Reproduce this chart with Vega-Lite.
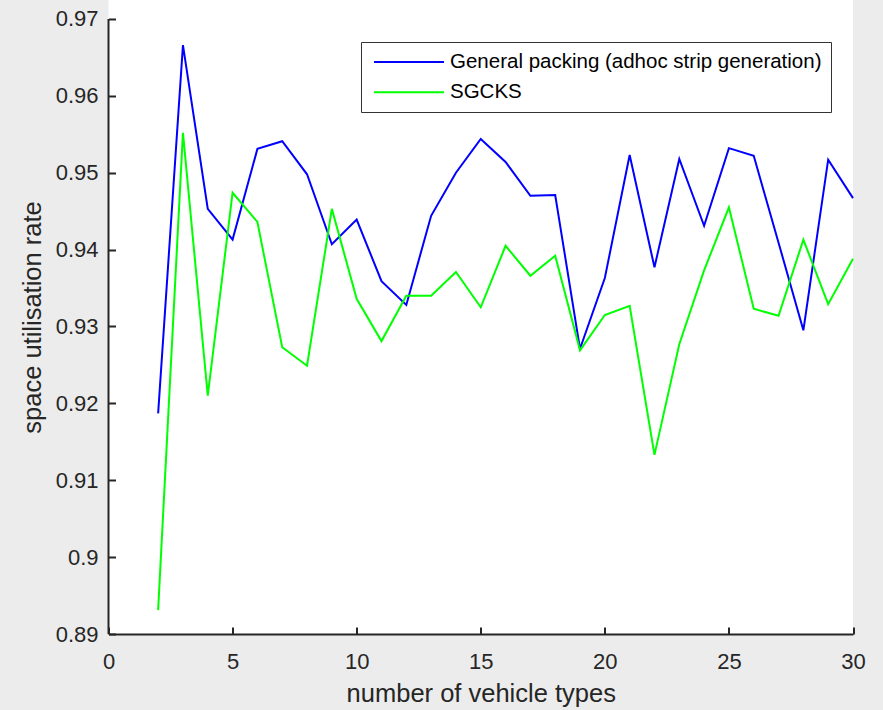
{
  "$schema": "https://vega.github.io/schema/vega-lite/v6.json",
  "width": 744.5,
  "height": 634,
  "autosize": "none",
  "padding": {"left": 108.5, "top": 0, "right": 30, "bottom": 76},
  "background": "#ececec",
  "config": {
    "view": {"stroke": null, "fill": "white"},
    "font": "Liberation Sans",
    "axis": {
      "labelFont": "Liberation Sans",
      "titleFont": "Liberation Sans",
      "labelColor": "#262626",
      "titleColor": "#262626",
      "domainColor": "#262626",
      "tickColor": "#262626",
      "domainWidth": 2,
      "tickWidth": 2,
      "tickSize": -7,
      "grid": false,
      "labelFlush": false,
      "labelOverlap": false,
      "labelFontSize": 22,
      "titleFontSize": 25.5,
      "titleFontWeight": "normal"
    }
  },
  "datasets": {
    "series": [
      {"n": 2, "rate": 0.9187, "method": "General packing (adhoc strip generation)"},
      {"n": 3, "rate": 0.9666, "method": "General packing (adhoc strip generation)"},
      {"n": 4, "rate": 0.9453, "method": "General packing (adhoc strip generation)"},
      {"n": 5, "rate": 0.9413, "method": "General packing (adhoc strip generation)"},
      {"n": 6, "rate": 0.9531, "method": "General packing (adhoc strip generation)"},
      {"n": 7, "rate": 0.9541, "method": "General packing (adhoc strip generation)"},
      {"n": 8, "rate": 0.9498, "method": "General packing (adhoc strip generation)"},
      {"n": 9, "rate": 0.9407, "method": "General packing (adhoc strip generation)"},
      {"n": 10, "rate": 0.9439, "method": "General packing (adhoc strip generation)"},
      {"n": 11, "rate": 0.9359, "method": "General packing (adhoc strip generation)"},
      {"n": 12, "rate": 0.9328, "method": "General packing (adhoc strip generation)"},
      {"n": 13, "rate": 0.9444, "method": "General packing (adhoc strip generation)"},
      {"n": 14, "rate": 0.9500, "method": "General packing (adhoc strip generation)"},
      {"n": 15, "rate": 0.9544, "method": "General packing (adhoc strip generation)"},
      {"n": 16, "rate": 0.9514, "method": "General packing (adhoc strip generation)"},
      {"n": 17, "rate": 0.9470, "method": "General packing (adhoc strip generation)"},
      {"n": 18, "rate": 0.9471, "method": "General packing (adhoc strip generation)"},
      {"n": 19, "rate": 0.9271, "method": "General packing (adhoc strip generation)"},
      {"n": 20, "rate": 0.9363, "method": "General packing (adhoc strip generation)"},
      {"n": 21, "rate": 0.9523, "method": "General packing (adhoc strip generation)"},
      {"n": 22, "rate": 0.9377, "method": "General packing (adhoc strip generation)"},
      {"n": 23, "rate": 0.9518, "method": "General packing (adhoc strip generation)"},
      {"n": 24, "rate": 0.9431, "method": "General packing (adhoc strip generation)"},
      {"n": 25, "rate": 0.9532, "method": "General packing (adhoc strip generation)"},
      {"n": 26, "rate": 0.9522, "method": "General packing (adhoc strip generation)"},
      {"n": 27, "rate": 0.9409, "method": "General packing (adhoc strip generation)"},
      {"n": 28, "rate": 0.9295, "method": "General packing (adhoc strip generation)"},
      {"n": 29, "rate": 0.9517, "method": "General packing (adhoc strip generation)"},
      {"n": 30, "rate": 0.9467, "method": "General packing (adhoc strip generation)"},
      {"n": 2, "rate": 0.8931, "method": "SGCKS"},
      {"n": 3, "rate": 0.9552, "method": "SGCKS"},
      {"n": 4, "rate": 0.9210, "method": "SGCKS"},
      {"n": 5, "rate": 0.9474, "method": "SGCKS"},
      {"n": 6, "rate": 0.9436, "method": "SGCKS"},
      {"n": 7, "rate": 0.9273, "method": "SGCKS"},
      {"n": 8, "rate": 0.9249, "method": "SGCKS"},
      {"n": 9, "rate": 0.9453, "method": "SGCKS"},
      {"n": 10, "rate": 0.9336, "method": "SGCKS"},
      {"n": 11, "rate": 0.9281, "method": "SGCKS"},
      {"n": 12, "rate": 0.9340, "method": "SGCKS"},
      {"n": 13, "rate": 0.9340, "method": "SGCKS"},
      {"n": 14, "rate": 0.9371, "method": "SGCKS"},
      {"n": 15, "rate": 0.9325, "method": "SGCKS"},
      {"n": 16, "rate": 0.9405, "method": "SGCKS"},
      {"n": 17, "rate": 0.9366, "method": "SGCKS"},
      {"n": 18, "rate": 0.9392, "method": "SGCKS"},
      {"n": 19, "rate": 0.9269, "method": "SGCKS"},
      {"n": 20, "rate": 0.9315, "method": "SGCKS"},
      {"n": 21, "rate": 0.9327, "method": "SGCKS"},
      {"n": 22, "rate": 0.9133, "method": "SGCKS"},
      {"n": 23, "rate": 0.9277, "method": "SGCKS"},
      {"n": 24, "rate": 0.9373, "method": "SGCKS"},
      {"n": 25, "rate": 0.9455, "method": "SGCKS"},
      {"n": 26, "rate": 0.9323, "method": "SGCKS"},
      {"n": 27, "rate": 0.9314, "method": "SGCKS"},
      {"n": 28, "rate": 0.9413, "method": "SGCKS"},
      {"n": 29, "rate": 0.9329, "method": "SGCKS"},
      {"n": 30, "rate": 0.9388, "method": "SGCKS"}
    ],
    "yline": [{"n": 0, "lo": 0.89, "hi": 0.97}]
  },
  "layer": [
    {
      "data": {"name": "series"},
      "mark": {"type": "line", "strokeWidth": 2},
      "encoding": {
        "x": {
          "field": "n", "type": "quantitative",
          "scale": {"domain": [0, 30], "nice": false, "zero": false},
          "axis": {"values": [0, 5, 10, 15, 20, 25, 30], "title": "number of vehicle types", "labelPadding": 24, "titlePadding": 9}
        },
        "y": {
          "field": "rate", "type": "quantitative",
          "scale": {"domain": [0.89, 0.97247], "nice": false, "zero": false},
          "axis": {"values": [0.89, 0.9, 0.91, 0.92, 0.93, 0.94, 0.95, 0.96, 0.97], "format": "~g", "domain": false, "title": "space utilisation rate", "labelPadding": 17.5, "titlePadding": 10}
        },
        "color": {
          "field": "method", "type": "nominal",
          "scale": {"domain": ["General packing (adhoc strip generation)", "SGCKS"], "range": ["#0000ff", "#00ff00"]},
          "legend": {
            "title": null,
            "orient": "none",
            "legendX": 252.5,
            "legendY": 42,
            "fillColor": "white",
            "strokeColor": "#333333",
            "padding": 9,
            "symbolType": "M-0.7,0H6.3",
            "symbolSize": 400,
            "symbolStrokeWidth": 2,
            "labelFont": "Liberation Sans",
            "labelFontSize": 20.5,
            "labelColor": "#000000",
            "labelOffset": 58,
            "labelLimit": 600,
            "rowPadding": 8.3
          }
        }
      }
    },
    {
      "data": {"name": "yline"},
      "mark": {"type": "rule", "color": "#262626", "strokeWidth": 2},
      "encoding": {
        "x": {"field": "n", "type": "quantitative"},
        "y": {"field": "lo", "type": "quantitative"},
        "y2": {"field": "hi"}
      }
    }
  ]
}
